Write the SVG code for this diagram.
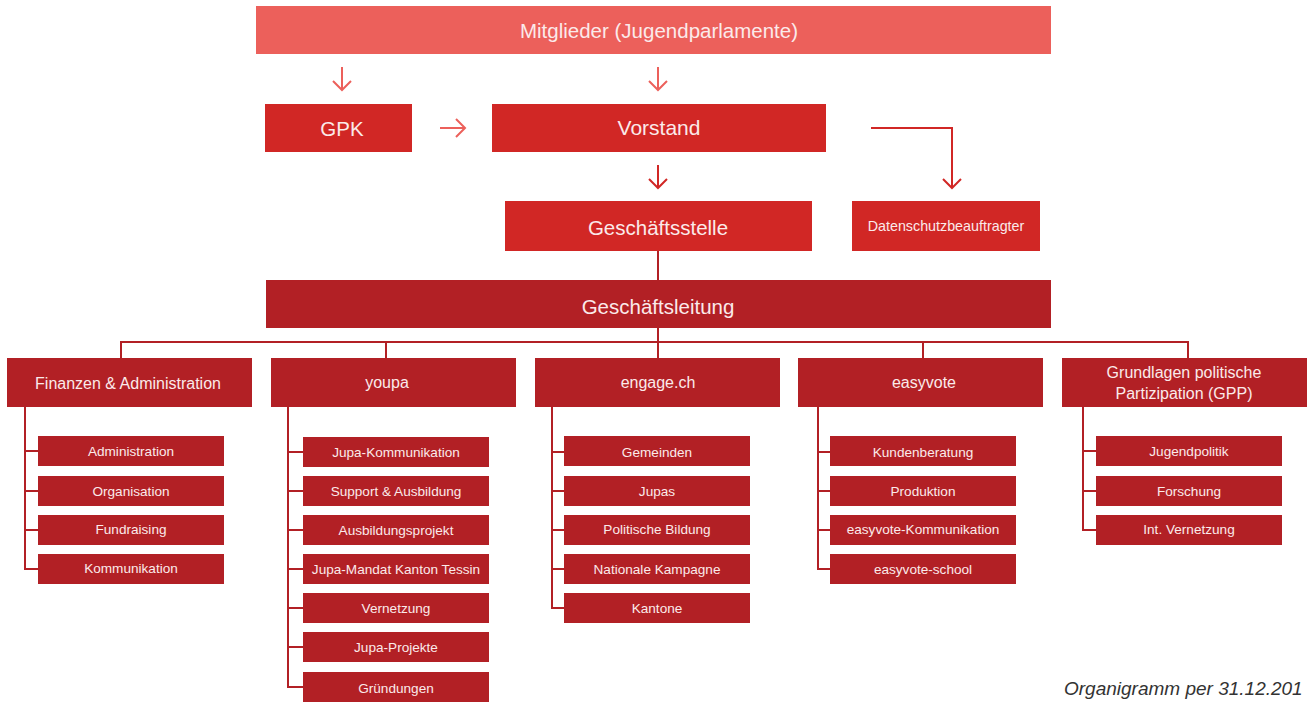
<svg xmlns="http://www.w3.org/2000/svg" width="1309" height="702" viewBox="0 0 1309 702">
<defs>
<style>
.t{font-family:"Liberation Sans",Arial,sans-serif;fill:#fbeaea;text-anchor:middle;dominant-baseline:central}
.top{fill:#ec605b}
.mid{fill:#d12725}
.low{fill:#b22025}
.l1{stroke:#ec605b;stroke-width:2;fill:none}
.l2{stroke:#d12725;stroke-width:2;fill:none}
.l3{stroke:#b22025;stroke-width:2;fill:none}
.s20{font-size:20.5px}.s16{font-size:16px}.s14{font-size:13.6px}.s13{font-size:14.3px}
</style>
<marker id="a1" viewBox="0 0 20 20" refX="18" refY="10" markerWidth="20" markerHeight="20" orient="auto" markerUnits="userSpaceOnUse"><path d="M9,1 L18,10 L9,19" fill="none" stroke="#ec605b" stroke-width="2"/></marker>
<marker id="a2" viewBox="0 0 20 20" refX="18" refY="10" markerWidth="20" markerHeight="20" orient="auto" markerUnits="userSpaceOnUse"><path d="M9,1 L18,10 L9,19" fill="none" stroke="#d12725" stroke-width="2"/></marker>
</defs>
<rect width="1309" height="702" fill="#fff"/>
<g id="connectors">
<line class="l1" x1="342" y1="67" x2="342" y2="90" marker-end="url(#a1)"/>
<line class="l1" x1="658" y1="67" x2="658" y2="90" marker-end="url(#a1)"/>
<line class="l1" x1="440" y1="128" x2="465" y2="128" marker-end="url(#a1)"/>
<line class="l2" x1="658" y1="165" x2="658" y2="188" marker-end="url(#a2)"/>
<polyline class="l2" points="871,128 952,128 952,188" marker-end="url(#a2)"/>
<line class="l3" x1="658" y1="251" x2="658" y2="280"/>
<line class="l3" x1="658" y1="328" x2="658" y2="358"/>
<polyline class="l3" points="121,358 121,342 1188,342 1188,358"/>
<line class="l3" x1="386" y1="342" x2="386" y2="358"/>
<line class="l3" x1="923" y1="342" x2="923" y2="358"/>
<polyline class="l3" points="25,406 25,569 38,569"/>
<line class="l3" x1="25" y1="451" x2="38" y2="451"/>
<line class="l3" x1="25" y1="491" x2="38" y2="491"/>
<line class="l3" x1="25" y1="530" x2="38" y2="530"/>
<polyline class="l3" points="288,406 288,687 303,687"/>
<line class="l3" x1="288" y1="452" x2="303" y2="452"/>
<line class="l3" x1="288" y1="491" x2="303" y2="491"/>
<line class="l3" x1="288" y1="530" x2="303" y2="530"/>
<line class="l3" x1="288" y1="569" x2="303" y2="569"/>
<line class="l3" x1="288" y1="608" x2="303" y2="608"/>
<line class="l3" x1="288" y1="647" x2="303" y2="647"/>
<polyline class="l3" points="552,406 552,608 564,608"/>
<line class="l3" x1="552" y1="452" x2="564" y2="452"/>
<line class="l3" x1="552" y1="491" x2="564" y2="491"/>
<line class="l3" x1="552" y1="530" x2="564" y2="530"/>
<line class="l3" x1="552" y1="569" x2="564" y2="569"/>
<polyline class="l3" points="818,406 818,569 830,569"/>
<line class="l3" x1="818" y1="452" x2="830" y2="452"/>
<line class="l3" x1="818" y1="491" x2="830" y2="491"/>
<line class="l3" x1="818" y1="530" x2="830" y2="530"/>
<polyline class="l3" points="1083,406 1083,530 1096,530"/>
<line class="l3" x1="1083" y1="451" x2="1096" y2="451"/>
<line class="l3" x1="1083" y1="491" x2="1096" y2="491"/>
</g>
<g id="mitglieder"><rect class="top" x="256" y="6" width="795" height="48"/><text class="t" style="font-size:20.5px" x="659" y="30">Mitglieder (Jugendparlamente)</text></g>
<g id="gpk"><rect class="mid" x="265" y="104" width="147" height="48"/><text class="t s20" x="342" y="128">GPK</text></g>
<g id="vorstand"><rect class="mid" x="492" y="104" width="334" height="48"/><text class="t" style="font-size:21px" x="659" y="127">Vorstand</text></g>
<g id="geschaeftsstelle"><rect class="mid" x="505" y="201" width="307" height="50"/><text class="t s20" x="658" y="227">Geschäftsstelle</text></g>
<g id="datenschutz"><rect class="mid" x="852" y="201" width="188" height="50"/><text class="t s13" x="946" y="226">Datenschutzbeauftragter</text></g>
<g id="geschaeftsleitung"><rect class="low" x="266" y="280" width="785" height="48"/><text class="t s20" x="658" y="306">Geschäftsleitung</text></g>
<g id="finanzen"><rect class="low" x="7" y="358" width="245" height="49"/><text class="t s16" x="128" y="383">Finanzen &amp; Administration</text></g>
<g id="youpa"><rect class="low" x="271" y="358" width="245" height="49"/><text class="t s16" x="387" y="382">youpa</text></g>
<g id="engage"><rect class="low" x="535" y="358" width="245" height="49"/><text class="t s16" x="658" y="382">engage.ch</text></g>
<g id="easyvote"><rect class="low" x="798" y="358" width="245" height="49"/><text class="t s16" x="924" y="382">easyvote</text></g>
<g id="gpp"><rect class="low" x="1062" y="358" width="245" height="49"/><text class="t s16" x="1184" y="372">Grundlagen politische</text><text class="t s16" x="1184" y="393">Partizipation (GPP)</text></g>
<g id="fa-admin"><rect class="low" x="38" y="436" width="186" height="30"/><text class="t s14" x="131" y="451">Administration</text></g>
<g id="fa-org"><rect class="low" x="38" y="476" width="186" height="30"/><text class="t s14" x="131" y="491">Organisation</text></g>
<g id="fa-fund"><rect class="low" x="38" y="515" width="186" height="30"/><text class="t s14" x="131" y="529">Fundraising</text></g>
<g id="fa-komm"><rect class="low" x="38" y="554" width="186" height="30"/><text class="t s14" x="131" y="568">Kommunikation</text></g>
<g id="yp-1"><rect class="low" x="303" y="437" width="186" height="30"/><text class="t s14" x="396" y="452">Jupa-Kommunikation</text></g>
<g id="yp-2"><rect class="low" x="303" y="476" width="186" height="30"/><text class="t s14" x="396" y="491">Support &amp; Ausbildung</text></g>
<g id="yp-3"><rect class="low" x="303" y="515" width="186" height="30"/><text class="t s14" x="396" y="530">Ausbildungsprojekt</text></g>
<g id="yp-4"><rect class="low" x="303" y="554" width="186" height="30"/><text class="t s14" x="396" y="569">Jupa-Mandat Kanton Tessin</text></g>
<g id="yp-5"><rect class="low" x="303" y="593" width="186" height="30"/><text class="t s14" x="396" y="608">Vernetzung</text></g>
<g id="yp-6"><rect class="low" x="303" y="632" width="186" height="30"/><text class="t s14" x="396" y="647">Jupa-Projekte</text></g>
<g id="yp-7"><rect class="low" x="303" y="672" width="186" height="30"/><text class="t s14" x="396" y="688">Gründungen</text></g>
<g id="en-1"><rect class="low" x="564" y="436" width="186" height="30"/><text class="t s14" x="657" y="452">Gemeinden</text></g>
<g id="en-2"><rect class="low" x="564" y="476" width="186" height="30"/><text class="t s14" x="657" y="491">Jupas</text></g>
<g id="en-3"><rect class="low" x="564" y="515" width="186" height="30"/><text class="t s14" x="657" y="529">Politische Bildung</text></g>
<g id="en-4"><rect class="low" x="564" y="554" width="186" height="30"/><text class="t s14" x="657" y="569">Nationale Kampagne</text></g>
<g id="en-5"><rect class="low" x="564" y="593" width="186" height="30"/><text class="t s14" x="657" y="608">Kantone</text></g>
<g id="ev-1"><rect class="low" x="830" y="436" width="186" height="30"/><text class="t s14" x="923" y="452">Kundenberatung</text></g>
<g id="ev-2"><rect class="low" x="830" y="476" width="186" height="30"/><text class="t s14" x="923" y="491">Produktion</text></g>
<g id="ev-3"><rect class="low" x="830" y="515" width="186" height="30"/><text class="t s14" x="923" y="529">easyvote-Kommunikation</text></g>
<g id="ev-4"><rect class="low" x="830" y="554" width="186" height="30"/><text class="t s14" x="923" y="569">easyvote-school</text></g>
<g id="gp-1"><rect class="low" x="1096" y="436" width="186" height="30"/><text class="t s14" x="1189" y="451">Jugendpolitik</text></g>
<g id="gp-2"><rect class="low" x="1096" y="476" width="186" height="30"/><text class="t s14" x="1189" y="491">Forschung</text></g>
<g id="gp-3"><rect class="low" x="1096" y="515" width="186" height="30"/><text class="t s14" x="1189" y="529">Int. Vernetzung</text></g>
<text x="1064" y="695" style="font-family:'Liberation Sans',Arial,sans-serif;font-style:italic;font-size:19px;fill:#333">Organigramm per 31.12.201</text>
</svg>
